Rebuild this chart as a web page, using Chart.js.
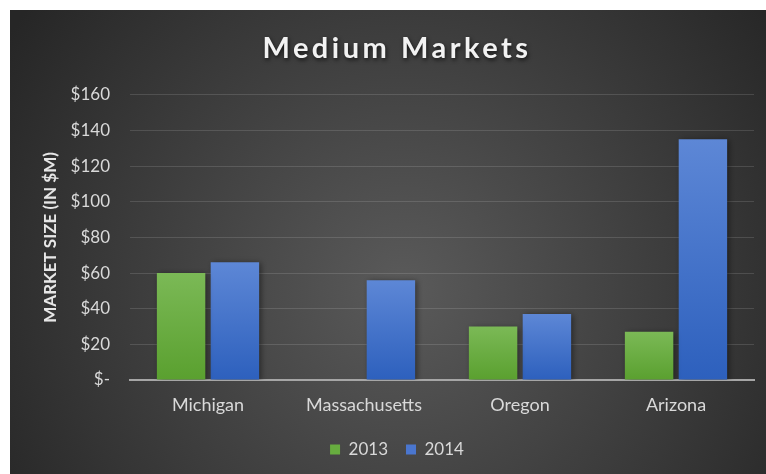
<!DOCTYPE html>
<html>
<head>
  <meta charset="utf-8">
  <title>Medium Markets</title>
  <script src="https://cdn.jsdelivr.net/npm/chart.js"></script>
  <style>
    body { margin: 0; background: #fff; }
    .chart-container {
      position: absolute;
      left: 10px;
      top: 10px;
      width: 756px;
      height: 464px;
    }
  </style>
</head>
<body>
  <div class="chart-container">
    <canvas id="marketChart"></canvas>
  </div>

  <script>
    // Data (values in $M)
    const states = ['Michigan', 'Massachusetts', 'Oregon', 'Arizona'];
    const seriesNames = ['2013', '2014'];
    const values2013 = [60, null, 30, 27];
    const values2014 = [66, 56, 37, 135];
    const yTicks = [0, 20, 40, 60, 80, 100, 120, 140, 160];

    // colour pairs for each series: top of bar, bottom of bar, legend swatch
    const greenTop = '#7bb956', greenBottom = '#5aa02f', greenSwatch = '#67ad3f';
    const blueTop = '#5d87d6', blueBottom = '#2d60bd', blueSwatch = '#4a76cf';

    // vertical gradient per bar, from its top down to the baseline
    function barGradient(top, bottom, solid) {
      return function(context) {
        const chart = context.chart;
        if (!chart.chartArea || !chart.scales.y) return solid;
        const v = context.raw;
        if (v == null) return solid;
        const y0 = chart.scales.y.getPixelForValue(v);
        const y1 = chart.scales.y.getPixelForValue(0);
        const g = chart.ctx.createLinearGradient(0, y0, 0, y1);
        g.addColorStop(0, top);
        g.addColorStop(1, bottom);
        return g;
      };
    }

    // dark radial background behind the whole chart
    const backgroundPlugin = {
      id: 'darkBackground',
      beforeDraw(chart) {
        const c = chart.ctx;
        const w = chart.width, h = chart.height;
        const g = c.createRadialGradient(w * 0.52, h * 0.6, 10, w * 0.52, h * 0.6, w * 0.62);
        g.addColorStop(0, '#595959');
        g.addColorStop(1, '#262626');
        c.save();
        c.fillStyle = g;
        c.fillRect(0, 0, w, h);
        c.restore();

        // spaced-out title with a soft drop shadow
        const tb = chart.titleBlock;
        if (tb && !tb._styled) {
          const drawTitle = tb.draw.bind(tb);
          tb.draw = function() {
            const tc = chart.ctx;
            tc.save();
            tc.letterSpacing = '3.5px';
            tc.shadowColor = 'rgba(0,0,0,0.7)';
            tc.shadowBlur = 4;
            tc.shadowOffsetX = 1;
            tc.shadowOffsetY = 2;
            drawTitle();
            tc.restore();
          };
          tb._styled = true;
        }
      }
    };

    // soft shadow under the bars
    const shadowPlugin = {
      id: 'barShadow',
      beforeDatasetsDraw(chart) {
        const c = chart.ctx;
        c.save();
        c.shadowColor = 'rgba(0,0,0,0.45)';
        c.shadowBlur = 6;
        c.shadowOffsetX = 2;
        c.shadowOffsetY = 1;
      },
      afterDatasetsDraw(chart) {
        chart.ctx.restore();
      }
    };

    const ctx = document.getElementById('marketChart').getContext('2d');
    const marketChart = new Chart(ctx, {
      type: 'bar',
      data: {
        labels: states,
        datasets: [
          {
            label: seriesNames[0],
            data: values2013,
            backgroundColor: barGradient(greenTop, greenBottom, greenSwatch),
            categoryPercentage: 0.69,
            barPercentage: 0.9
          },
          {
            label: seriesNames[1],
            data: values2014,
            backgroundColor: barGradient(blueTop, blueBottom, blueSwatch),
            categoryPercentage: 0.69,
            barPercentage: 0.9
          }
        ]
      },
      plugins: [backgroundPlugin, shadowPlugin],
      options: {
        responsive: true,
        maintainAspectRatio: false,
        animation: false,
        layout: {
          padding: { left: 30, right: 12, top: 6, bottom: 6 }
        },
        plugins: {
          title: {
            display: true,
            text: 'Medium Markets',
            color: '#f2f2f2',
            font: { family: 'Lato', size: 29, weight: 'bold' },
            padding: { top: 15, bottom: 29 }
          },
          legend: {
            position: 'bottom',
            labels: {
              color: '#d9d9d9',
              font: { family: 'Lato', size: 17 },
              boxWidth: 10,
              boxHeight: 10,
              padding: 18,
              generateLabels(chart) {
                const swatches = [greenSwatch, blueSwatch];
                return seriesNames.map((name, i) => ({
                  text: name,
                  fillStyle: swatches[i],
                  strokeStyle: swatches[i],
                  lineWidth: 0,
                  fontColor: '#d9d9d9',
                  datasetIndex: i
                }));
              }
            }
          },
          tooltip: { enabled: false }
        },
        scales: {
          x: {
            grid: { display: false, drawTicks: false },
            border: { display: true, color: '#a6a6a6', width: 2 },
            ticks: {
              color: '#d9d9d9',
              font: { family: 'Lato', size: 18 },
              padding: 14
            },
            afterFit(scale) { scale.height = 43; }
          },
          y: {
            min: 0,
            max: 160,
            afterBuildTicks(scale) {
              scale.ticks = yTicks.map(v => ({ value: v }));
            },
            grid: {
              color: 'rgba(255,255,255,0.13)',
              drawTicks: false
            },
            border: { display: false },
            ticks: {
              color: '#d9d9d9',
              font: { family: 'Lato', size: 17 },
              padding: 20,
              callback: v => v === 0 ? '$-' : '$' + v
            },
            title: {
              display: true,
              text: 'MARKET SIZE (IN $M)',
              color: '#e6e6e6',
              font: { family: 'Lato', size: 17, weight: 'bold' },
              padding: 0
            },
            afterFit(scale) { scale.width = 90; }
          }
        }
      }
    });
  </script>
</body>
</html>
